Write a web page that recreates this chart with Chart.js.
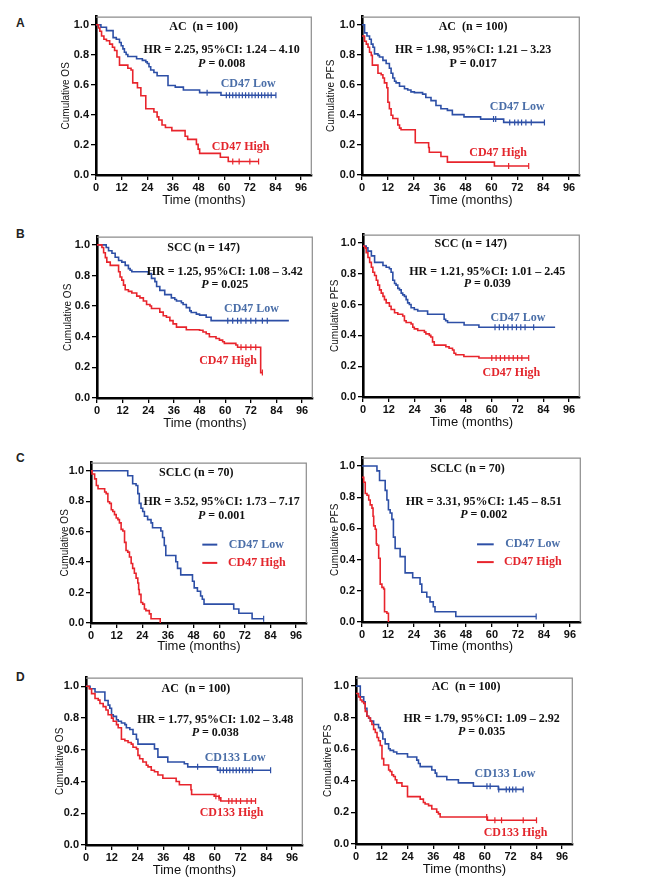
<!DOCTYPE html>
<html><head><meta charset="utf-8">
<script src="https://cdn.jsdelivr.net/npm/chart.js@4.4.1/dist/chart.umd.min.js"></script>
<style>
html,body{margin:0;padding:0;background:#fff;}
#wrap{position:relative;width:665px;height:886px;overflow:hidden;background:#fff;}
canvas{position:absolute;}
.lbl{position:absolute;font:bold 12px "Liberation Sans",Arial,sans-serif;color:#222;line-height:12px;}
</style></head><body><div id="wrap"></div>
<script>
// ---------- tick labels ----------
const xTicks = [0,12,24,36,48,60,72,84,96];
const yTicks = [0,0.2,0.4,0.6,0.8,1.0];

// ---------- A: AC (n = 100), CD47, OS ----------
const aOsLowT = [0,2.3,4.9,8.0,9.5,11.0,11.8,12.6,13.3,14.1,14.9,19.0,21.7,23.3,24.0,24.8,25.6,27.1,28.6,33.7,37.1,40.9,48.5,58.5,84.2];
const aOsLowS = [1,0.983,0.961,0.914,0.903,0.882,0.860,0.839,0.817,0.802,0.789,0.774,0.763,0.753,0.742,0.720,0.699,0.682,0.660,0.596,0.585,0.566,0.548,0.531,0.531];
const aOsLowC = [52,61,62.5,64,65.5,67,68.5,70,71.5,73,74.5,76,77.5,79,80.5,82,84.2];
const aOsHighT = [0,1.2,1.8,2.6,3.7,4.9,6.4,7.7,8.7,9.8,11.0,14.9,16.4,17.2,19.4,21.0,23.3,27.1,28.6,29.4,30.9,32.5,35.5,41.7,42.9,47.0,47.8,48.5,58.2,61.9,76.1];
const aOsHighS = [1,0.978,0.957,0.925,0.903,0.893,0.871,0.850,0.828,0.785,0.731,0.710,0.699,0.613,0.581,0.527,0.441,0.419,0.387,0.366,0.333,0.316,0.295,0.258,0.237,0.204,0.172,0.144,0.118,0.090,0.090];
const aOsHighC = [64,67,72,76.1];
// ---------- A: PFS ----------
const aPfsLowT = [0,1.2,2.3,3.5,4.3,5.1,5.8,7.4,8.1,9.7,11.2,12.7,13.5,14.3,15.1,15.8,17.4,19.7,21.2,22.7,24.3,28.1,29.6,32.0,34.3,36.6,39.6,41.9,47.3,55.0,65.7,84.6];
const aPfsLowS = [1,0.946,0.925,0.903,0.871,0.850,0.806,0.796,0.785,0.763,0.742,0.710,0.677,0.645,0.624,0.613,0.591,0.574,0.566,0.553,0.548,0.538,0.516,0.495,0.462,0.441,0.430,0.402,0.387,0.372,0.350,0.350];
const aPfsLowC = [61,62,68.5,70.8,72.4,74,76,78.5,84.6];
const aPfsHighT = [0,1.2,2.0,2.8,3.5,4.3,4.8,7.4,8.9,9.7,10.4,11.5,12.0,12.7,13.5,14.3,16.6,17.4,18.1,24.7,30.9,31.2,36.6,39.6,61.4,77.3];
const aPfsHighS = [0.925,0.890,0.871,0.850,0.817,0.796,0.731,0.677,0.667,0.645,0.613,0.581,0.484,0.441,0.398,0.376,0.333,0.312,0.301,0.215,0.183,0.151,0.123,0.086,0.060,0.060];
const aPfsHighC = [68,77.3];

// ---------- B: SCC (n = 147), OS ----------
const bOsLowT = [0,4.3,5.4,7.0,8.5,10.1,11.6,13.2,14.7,15.5,16.3,24.0,25.5,27.1,27.9,29.4,31.7,34.8,36.4,37.2,39.5,40.3,41.8,43.4,44.1,46.5,48.0,51.1,53.4,89.8];
const bOsLowS = [1,0.983,0.962,0.945,0.919,0.898,0.887,0.866,0.845,0.834,0.824,0.813,0.781,0.760,0.728,0.703,0.675,0.654,0.643,0.633,0.622,0.611,0.590,0.569,0.558,0.548,0.541,0.527,0.505,0.505];
const bOsLowC = [61.2,63.5,65.8,67.4,69.7,72,74.3,77.4,79.7];
const bOsHighT = [0,2.3,3.1,3.9,4.6,6.2,10.1,10.8,11.6,12.4,13.2,14.7,16.3,18.6,20.1,21.7,23.2,24.8,25.5,29.4,31.0,32.5,34.1,35.6,37.2,41.8,48.0,49.6,51.1,52.6,55.7,57.3,58.8,59.6,65.0,65.8,76.6,77.4];
const bOsHighS = [1,0.983,0.949,0.917,0.887,0.866,0.824,0.790,0.770,0.737,0.707,0.696,0.686,0.665,0.654,0.633,0.611,0.601,0.584,0.561,0.537,0.527,0.505,0.484,0.463,0.446,0.442,0.431,0.420,0.400,0.389,0.378,0.367,0.357,0.346,0.331,0.166,0.166];
const bOsHighC = [67.4,69.7,72,74.3,77.4];
// ---------- B: PFS ----------
const bPfsLowT = [0,1.5,2.3,3.9,5.4,9.3,10.8,12.3,13.1,13.9,14.7,15.4,16.2,17.0,17.8,18.5,19.3,20.1,20.8,21.6,22.4,23.9,25.5,30.1,37.8,38.5,39.4,47.1,54.0,89.5];
const bPfsLowS = [0.979,0.968,0.947,0.916,0.874,0.853,0.842,0.832,0.810,0.758,0.737,0.726,0.705,0.695,0.674,0.663,0.653,0.632,0.611,0.600,0.579,0.568,0.558,0.537,0.505,0.495,0.484,0.467,0.453,0.453];
const bPfsLowC = [61.5,63.5,65.5,67.5,69.5,71.5,73.5,75.5,79.5];
const bPfsHighT = [0,0.8,1.5,2.3,3.1,3.9,4.6,5.4,6.2,6.9,7.7,8.5,9.3,10.0,10.8,12.3,13.1,14.7,16.2,18.5,19.3,20.1,22.4,23.2,23.9,25.5,28.6,29.3,30.9,31.6,32.4,33.2,38.6,40.1,41.7,42.4,43.2,47.0,54.0,77.2];
const bPfsHighS = [0.979,0.968,0.937,0.905,0.874,0.842,0.810,0.789,0.758,0.726,0.695,0.674,0.653,0.632,0.611,0.589,0.568,0.547,0.537,0.526,0.495,0.484,0.474,0.453,0.442,0.432,0.421,0.410,0.400,0.389,0.358,0.337,0.326,0.316,0.305,0.284,0.274,0.263,0.253,0.253];
const bPfsHighC = [60,62,64,66,68,70,72,74,77.2];

// ---------- C: SCLC (n = 70), OS ----------
const cOsLowT = [0,17.2,19.5,21.1,21.9,22.6,23.4,24.2,25.0,26.5,28.1,28.8,32.7,33.5,34.3,35.0,39.7,40.5,42.0,47.5,48.3,49.8,51.3,52.1,52.9,66.8,69.2,75.4,80.8];
const cOsLowS = [1,0.968,0.915,0.904,0.850,0.786,0.754,0.733,0.701,0.679,0.658,0.626,0.605,0.562,0.509,0.444,0.402,0.359,0.316,0.274,0.231,0.209,0.177,0.156,0.124,0.092,0.064,0.028,0.028];
const cOsLowC = [80.8];
const cOsHighT = [0,0.5,1.7,2.5,3.3,6.4,7.1,7.9,8.7,9.5,10.2,11.0,11.8,12.6,13.3,14.1,14.9,15.7,16.4,17.2,18.0,18.8,19.5,20.3,21.1,21.9,22.3,22.6,23.4,24.2,25.0,25.7,27.3,28.1,32.4];
const cOsHighS = [1,0.979,0.947,0.904,0.882,0.861,0.850,0.797,0.786,0.744,0.733,0.712,0.690,0.679,0.658,0.615,0.605,0.530,0.476,0.466,0.434,0.391,0.359,0.327,0.295,0.263,0.220,0.188,0.135,0.124,0.092,0.081,0.060,0.028,0];
const cOsHighC = [];
// ---------- C: PFS ----------
const cPfsLowT = [0,6.9,8.1,10.7,11.5,12.2,13.0,13.8,14.5,15.3,17.6,19.9,23.4,26.8,27.6,29.9,31.4,32.9,33.7,43.3,80.4];
const cPfsLowS = [1,0.969,0.907,0.844,0.782,0.720,0.699,0.658,0.544,0.471,0.419,0.315,0.284,0.243,0.191,0.160,0.129,0.098,0.066,0.035,0.035];
const cPfsLowC = [80.4];
const cPfsHighT = [0,0.8,1.5,2.3,3.1,3.8,4.6,5.1,5.4,6.1,6.6,6.9,7.7,8.4,9.2,10.0,10.4,11.5,12.2];
const cPfsHighS = [0.927,0.896,0.824,0.813,0.782,0.751,0.730,0.678,0.616,0.595,0.502,0.492,0.409,0.243,0.222,0.212,0.066,0.056,0];
const cPfsHighC = [];

// ---------- D: AC (n = 100), CD133, OS ----------
const dOsLowT = [0,1.9,4.2,8.8,10.3,11.1,11.9,12.7,14.2,15.0,16.5,18.1,18.8,20.4,21.9,23.5,24.2,31.9,33.5,38.1,45.8,47.4,61.3,86.0];
const dOsLowS = [1,0.984,0.963,0.910,0.881,0.861,0.820,0.810,0.789,0.779,0.768,0.758,0.738,0.727,0.697,0.666,0.635,0.605,0.553,0.523,0.512,0.492,0.471,0.471];
const dOsLowC = [52,62.5,64,65.5,67,68.5,70,71.5,73,74.5,76,77.5,86];
const dOsHighT = [0,1.5,2.6,4.2,5.7,6.5,8.0,9.3,10.3,11.9,12.7,14.2,15.0,16.5,18.1,19.6,21.1,21.9,23.5,24.2,25.0,26.5,28.1,28.9,30.4,31.9,33.5,35.8,42.0,43.5,48.9,49.2,59.7,62.0,62.8,79.0];
const dOsHighS = [1,0.984,0.953,0.922,0.912,0.891,0.871,0.850,0.820,0.799,0.779,0.758,0.738,0.666,0.656,0.645,0.635,0.615,0.605,0.564,0.543,0.523,0.502,0.492,0.471,0.461,0.441,0.420,0.400,0.379,0.348,0.318,0.307,0.297,0.277,0.277];
const dOsHighC = [60.5,62,66.5,68,70,72,75,77,79];
// ---------- D: PFS ----------
const dPfsLowT = [0,2.0,3.6,4.3,5.1,5.9,6.7,8.2,10.5,11.3,12.1,12.5,13.6,15.2,15.9,17.5,19.0,24.0,28.3,29.1,29.9,35.3,36.9,37.6,42.3,47.7,54.7,66.3,77.9];
const dPfsLowS = [1,0.932,0.901,0.860,0.809,0.798,0.778,0.757,0.737,0.716,0.706,0.665,0.634,0.603,0.593,0.583,0.572,0.551,0.531,0.510,0.490,0.469,0.449,0.428,0.407,0.387,0.366,0.346,0.346];
const dPfsLowC = [61,62.5,66.5,70,71.5,73,74.5,77.9];
const dPfsHighT = [0,1.2,2.0,2.8,3.6,4.3,5.1,5.9,6.7,7.4,8.2,9.0,9.8,10.5,11.3,12.1,12.9,15.2,15.9,16.7,17.5,18.3,19.0,21.4,24.0,29.9,31.4,32.2,33.8,35.3,37.6,38.4,39.2,61.2,84.1];
const dPfsHighS = [0.953,0.932,0.912,0.901,0.891,0.840,0.809,0.798,0.778,0.757,0.726,0.706,0.675,0.654,0.624,0.541,0.500,0.469,0.459,0.438,0.428,0.407,0.387,0.366,0.300,0.284,0.263,0.253,0.243,0.222,0.202,0.191,0.171,0.150,0.150];
const dPfsHighC = [60.9,64.7,67.8,77.9,84.1];

// ---------- styling ----------
const BLUE = '#2d4fa6', RED = '#e8242c';
const BLUE_TXT = '#4a6ea8', RED_TXT = '#e3262d', INK = '#111';
const SANS = '"Liberation Sans", Arial, sans-serif';
const SERIF = '"Liberation Serif", "Times New Roman", serif';
const YW = 40, XH = 38, PT = 4, PR = 4;

function pts(T, S){ return T.map((t,i)=>({x:t, y:S[i]})); }
function censorPts(C, T, S){
  return C.map(c=>{ let v=S[0]; for(let i=0;i<T.length;i++){ if(T[i]<=c) v=S[i]; } return {x:c,y:v}; });
}

const frame = {
  id:'frame',
  beforeDatasetsDraw(chart){
    const {ctx, chartArea:a} = chart;
    ctx.save(); ctx.strokeStyle='#8c8c8c'; ctx.lineWidth=1.2;
    ctx.beginPath(); ctx.moveTo(a.left, a.top+0.5); ctx.lineTo(a.right-0.5, a.top+0.5); ctx.lineTo(a.right-0.5, a.bottom); ctx.stroke();
    ctx.restore();
  }
};
const notes = {
  id:'notes',
  afterDatasetsDraw(chart, args, opts){
    const ctx = chart.ctx, xs = chart.scales.x, ys = chart.scales.y;
    ctx.save();
    (opts.items||[]).forEach(it=>{
      const x = xs.getPixelForValue(it.x), y = ys.getPixelForValue(it.y);
      if (it.x2 !== undefined){
        ctx.strokeStyle = it.color; ctx.lineWidth = 2;
        ctx.beginPath(); ctx.moveTo(x, y); ctx.lineTo(xs.getPixelForValue(it.x2), y); ctx.stroke();
        return;
      }
      const f = p => (p[1] ? 'italic ' : '') + 'bold 12px ' + SERIF;
      let w = 0;
      it.parts.forEach(p=>{ ctx.font = f(p); w += ctx.measureText(p[0]).width; });
      let sx = it.align === 'left' ? x : x - w/2;
      ctx.fillStyle = it.color; ctx.textBaseline = 'middle'; ctx.textAlign = 'left';
      it.parts.forEach(p=>{ ctx.font = f(p); ctx.fillText(p[0], sx, y); sx += ctx.measureText(p[0]).width; });
    });
    ctx.restore();
  }
};

function makeChart(p){
  const wrap = document.getElementById('wrap');
  const cv = document.createElement('canvas');
  const W = Math.round(p.pr - p.pl) + YW + PR;
  const H = Math.round(p.pb - p.pt) + PT + XH;
  cv.width = W; cv.height = H;
  cv.style.left = (p.pl - YW) + 'px'; cv.style.top = (p.pt - PT) + 'px';
  cv.style.width = W + 'px'; cv.style.height = H + 'px';
  wrap.appendChild(cv);
  const ds = [];
  p.series.forEach(s=>{
    ds.push({data: pts(s.T, s.S), borderColor: s.color, backgroundColor: s.color, borderWidth: 1.6,
             stepped: true, pointRadius: 0, fill: false, tension: 0});
    if (s.C.length) ds.push({data: censorPts(s.C, s.T, s.S), showLine: false, borderColor: s.color,
             backgroundColor: s.color, pointStyle: 'line', rotation: 90, pointRadius: 3, pointBorderWidth: 1.2});
  });
  new Chart(cv, {
    type: 'line',
    data: {datasets: ds},
    plugins: [frame, notes],
    options: {
      responsive: false, animation: false, devicePixelRatio: 1,
      layout: {padding: {top: PT, right: PR, left: 0, bottom: 0}},
      plugins: {legend: {display: false}, tooltip: {enabled: false}, notes: {items: p.notes}},
      scales: {
        x: {type: 'linear', min: 0, max: 101,
          afterBuildTicks: s => { s.ticks = xTicks.map(v => ({value: v})); },
          afterFit: s => { s.height = XH; },
          ticks: {autoSkip: false, maxRotation: 0, padding: 1, color: INK,
                  font: {family: SANS, size: 11, weight: 'bold'}, callback: v => String(v)},
          grid: {display: true, drawOnChartArea: false, tickLength: 5, color: '#000', lineWidth: 1.3},
          border: {display: true, color: '#000', width: 2.6},
          title: {display: true, text: 'Time (months)', color: INK, font: {family: SANS, size: 13},
                  padding: {top: 0, bottom: XH - p.dx - 7.8}}
        },
        y: {type: 'linear', min: 0, max: 1.054,
          afterBuildTicks: s => { s.ticks = yTicks.map(v => ({value: v})); },
          afterFit: s => { s.width = YW; },
          ticks: {padding: 2, color: INK, font: {family: SANS, size: 11, weight: 'bold'},
                  callback: v => Number(v).toFixed(1)},
          grid: {display: true, drawOnChartArea: false, tickLength: 5, color: '#000', lineWidth: 1.3},
          border: {display: true, color: '#000', width: 2.6},
          title: {display: true, text: p.ytitle, color: INK, font: {family: SANS, size: 10},
                  padding: {top: YW - p.dy - 6, bottom: 0}}
        }
      }
    }
  });
}

function hdr(txt, x, y){ return {parts: [[txt, false]], x, y, color: INK}; }
function pline(pv, italic, x, y){ return {parts: [['P', italic], [' = ' + pv, false]], x, y, color: INK}; }

const panels = [
 {pl:96, pr:313, pt:12, pb:175, dx:25, dy:30, ytitle:'Cumulative OS',
  series:[{T:aOsHighT,S:aOsHighS,C:aOsHighC,color:RED},{T:aOsLowT,S:aOsLowS,C:aOsLowC,color:BLUE}],
  notes:[hdr('AC  (n = 100)',50.4,0.983), hdr('HR = 2.25, 95%CI: 1.24 \u2013 4.10',58.8,0.832), pline('0.008',true,58.8,0.742),
         {parts:[['CD47 Low',false]],x:71.2,y:0.606,color:BLUE_TXT},{parts:[['CD47 High',false]],x:67.7,y:0.189,color:RED_TXT}]},
 {pl:362.3, pr:581.7, pt:12, pb:175, dx:25, dy:31, ytitle:'Cumulative PFS',
  series:[{T:aPfsHighT,S:aPfsHighS,C:aPfsHighC,color:RED},{T:aPfsLowT,S:aPfsLowS,C:aPfsLowC,color:BLUE}],
  notes:[hdr('AC  (n = 100)',51.5,0.983), hdr('HR = 1.98, 95%CI: 1.21 \u2013 3.23',51.5,0.832), pline('0.017',false,51.5,0.742),
         {parts:[['CD47 Low',false]],x:72.0,y:0.452,color:BLUE_TXT},{parts:[['CD47 High',false]],x:63.1,y:0.146,color:RED_TXT}]},
 {pl:96.7, pr:314, pt:232, pb:397.7, dx:25, dy:28.5, ytitle:'Cumulative OS',
  series:[{T:bOsHighT,S:bOsHighS,C:bOsHighC,color:RED},{T:bOsLowT,S:bOsLowS,C:bOsLowC,color:BLUE}],
  notes:[hdr('SCC (n = 147)',49.9,0.983), hdr('HR = 1.25, 95%CI: 1.08 \u2013 3.42',59.8,0.824), pline('0.025',true,59.8,0.739),
         {parts:[['CD47 Low',false]],x:72.3,y:0.580,color:BLUE_TXT},{parts:[['CD47 High',false]],x:61.3,y:0.244,color:RED_TXT}]},
 {pl:363.3, pr:581.7, pt:230, pb:396.7, dx:25.5, dy:28, ytitle:'Cumulative PFS',
  series:[{T:bPfsHighT,S:bPfsHighS,C:bPfsHighC,color:RED},{T:bPfsLowT,S:bPfsLowS,C:bPfsLowC,color:BLUE}],
  notes:[hdr('SCC (n = 147)',50.2,0.994), hdr('HR = 1.21, 95%CI: 1.01 \u2013 2.45',57.9,0.815), pline('0.039',true,57.9,0.731),
         {parts:[['CD47 Low',false]],x:72.2,y:0.516,color:BLUE_TXT},{parts:[['CD47 High',false]],x:69.1,y:0.158,color:RED_TXT}]},
 {pl:91.3, pr:308, pt:458, pb:622.7, dx:23.5, dy:25.5, ytitle:'Cumulative OS',
  series:[{T:cOsHighT,S:cOsHighS,C:cOsHighC,color:RED},{T:cOsLowT,S:cOsLowS,C:cOsLowC,color:BLUE}],
  notes:[hdr('SCLC (n = 70)',49.3,0.985), hdr('HR = 3.52, 95%CI: 1.73 \u2013 7.17',61.1,0.793), pline('0.001',true,61.1,0.707),
         {x:52.1,x2:59.1,y:0.515,color:BLUE},{parts:[['CD47 Low',false]],x:64.5,y:0.515,color:BLUE_TXT,align:'left'},
         {x:52.1,x2:59.1,y:0.395,color:RED},{parts:[['CD47 High',false]],x:64.1,y:0.395,color:RED_TXT,align:'left'}]},
 {pl:361.7, pr:581.7, pt:453, pb:622.3, dx:24, dy:26.5, ytitle:'Cumulative PFS',
  series:[{T:cPfsHighT,S:cPfsHighS,C:cPfsHighC,color:RED},{T:cPfsLowT,S:cPfsLowS,C:cPfsLowC,color:BLUE}],
  notes:[hdr('SCLC (n = 70)',48.7,0.983), hdr('HR = 3.31, 95%CI: 1.45 \u2013 8.51',56.2,0.772), pline('0.002',true,56.2,0.689),
         {x:53.1,x2:60.8,y:0.498,color:BLUE},{parts:[['CD47 Low',false]],x:66.1,y:0.498,color:BLUE_TXT,align:'left'},
         {x:53.1,x2:60.8,y:0.384,color:RED},{parts:[['CD47 High',false]],x:65.5,y:0.384,color:RED_TXT,align:'left'}]},
 {pl:86, pr:304, pt:673.3, pb:845, dx:25, dy:25.5, ytitle:'Cumulative OS',
  series:[{T:dOsHighT,S:dOsHighS,C:dOsHighC,color:RED},{T:dOsLowT,S:dOsLowS,C:dOsLowC,color:BLUE}],
  notes:[hdr('AC  (n = 100)',51.2,0.984), hdr('HR = 1.77, 95%CI: 1.02 \u2013 3.48',60.2,0.789), pline('0.038',true,60.2,0.707),
         {parts:[['CD133 Low',false]],x:69.5,y:0.551,color:BLUE_TXT},{parts:[['CD133 High',false]],x:67.8,y:0.201,color:RED_TXT}]},
 {pl:355.7, pr:573.3, pt:673.3, pb:844.3, dx:25, dy:28, ytitle:'Cumulative PFS',
  series:[{T:dPfsHighT,S:dPfsHighS,C:dPfsHighC,color:RED},{T:dPfsLowT,S:dPfsLowS,C:dPfsLowC,color:BLUE}],
  notes:[hdr('AC  (n = 100)',51.3,0.994), hdr('HR = 1.79, 95%CI: 1.09 \u2013 2.92',58.5,0.794), pline('0.035',true,58.5,0.712),
         {parts:[['CD133 Low',false]],x:69.4,y:0.444,color:BLUE_TXT},{parts:[['CD133 High',false]],x:74.3,y:0.068,color:RED_TXT}]}
];
panels.forEach(makeChart);

[['A',16,17],['B',16,228],['C',16,452],['D',16,671]].forEach(([t,x,y])=>{
  const d=document.createElement('div'); d.className='lbl'; d.textContent=t; d.style.left=x+'px'; d.style.top=y+'px';
  document.getElementById('wrap').appendChild(d);
});
</script></body></html>
